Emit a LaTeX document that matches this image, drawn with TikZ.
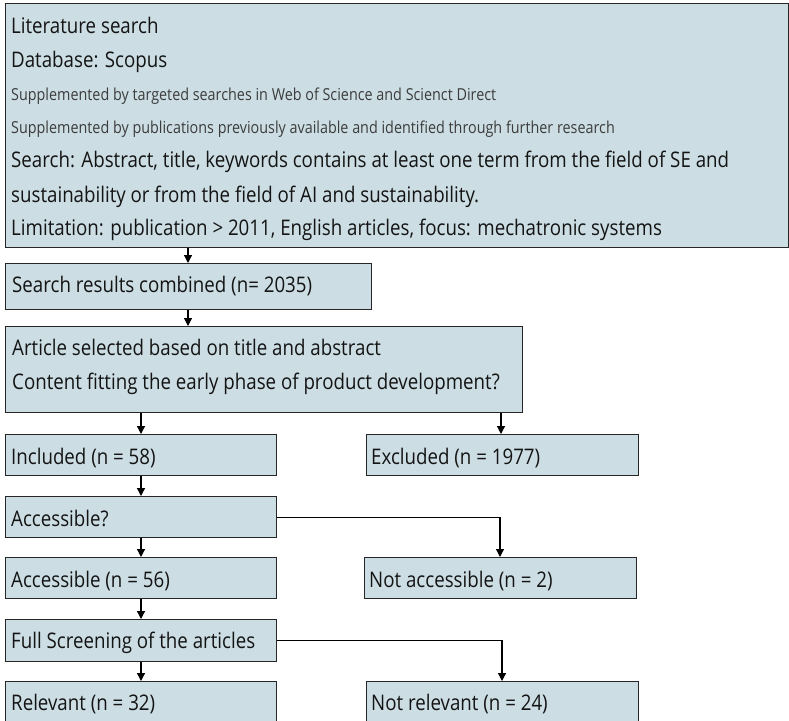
\documentclass[tikz,border=0pt]{standalone}
\usepackage{fontspec}
\setmainfont[FakeStretch=0.87]{Open Sans}
\usetikzlibrary{arrows.meta}
\definecolor{boxfill}{RGB}{204,222,228}
\definecolor{txt}{RGB}{20,20,20}
\definecolor{txtsmall}{RGB}{60,60,60}
\tikzset{
  box/.style={draw=black!85, line width=1.4pt, fill=boxfill, rectangle, inner sep=0pt, anchor=north west},
  big/.style={anchor=base west, inner sep=0pt, text=txt, font=\fontsize{21.5}{25}\selectfont},
  small/.style={anchor=base west, inner sep=0pt, text=txtsmall, font=\fontsize{16.5}{20}\selectfont},
  arr/.style={draw=black, line width=1.2pt, -{Triangle[width=8pt,length=8pt]}},
}
\begin{document}
\begin{tikzpicture}[x=1pt,y=-1pt]
\useasboundingbox (0,0) rectangle (789,720);
% boxes
\node[box, minimum width=783pt, minimum height=244pt] (top) at (5,3) {};
\node[box, minimum width=366pt, minimum height=46pt] (comb) at (5,263) {};
\node[box, minimum width=517pt, minimum height=86pt] (sel) at (5,326) {};
\node[box, minimum width=271pt, minimum height=41pt] (inc) at (5,434) {};
\node[box, minimum width=272pt, minimum height=41pt] (exc) at (366,434) {};
\node[box, minimum width=271pt, minimum height=41pt] (accq) at (5,496) {};
\node[box, minimum width=271pt, minimum height=41pt] (acc) at (5,557) {};
\node[box, minimum width=272pt, minimum height=41pt] (nacc) at (364,557) {};
\node[box, minimum width=271pt, minimum height=42pt] (full) at (5,619) {};
\node[box, minimum width=271pt, minimum height=60pt] (rel) at (5,681) {};
\node[box, minimum width=272pt, minimum height=60pt] (nrel) at (366,681) {};
% texts
\node[big] (t1) at (11,33) {Literature search};
\node[big] (t2) at (11,67) {Database: Scopus};
\node[small] (t3) at (11,100) {Supplemented by targeted searches in Web of Science and Scienct Direct};
\node[small] (t4) at (11,133) {Supplemented by publications previously available and identified through further research};
\node[big] (t5) at (11,167) {Search: Abstract, title, keywords contains at least one term from the field of SE and};
\node[big] (t6) at (11,202) {sustainability or from the field of AI and sustainability.};
\node[big] (t7) at (11,235) {Limitation: publication > 2011, English articles, focus: mechatronic systems};
\node[big] (t8) at (12,292) {Search results combined (n= 2035)};
\node[big] (t9) at (12,355) {Article selected based on title and abstract};
\node[big] (t10) at (12,389) {Content fitting the early phase of product development?};
\node[big] (t11) at (11,464) {Included (n = 58)};
\node[big] (t12) at (371,464) {Excluded (n = 1977)};
\node[big] (t13) at (11,526) {Accessible?};
\node[big] (t14) at (11,587) {Accessible (n = 56)};
\node[big] (t15) at (369,587) {Not accessible (n = 2)};
\node[big] (t16) at (11,648) {Full Screening of the articles};
\node[big] (t17) at (11,710) {Relevant (n = 32)};
\node[big] (t18) at (371,710) {Not relevant (n = 24)};
% connectors
\draw[arr] ([xshift=183pt]top.south west) -- ([xshift=183pt]comb.north west);
\draw[arr] ([xshift=183pt]comb.south west) -- ([xshift=183pt]sel.north west);
\draw[arr] ([xshift=136pt]sel.south west) -- ([xshift=136pt]inc.north west);
\draw[arr] ([xshift=496pt]sel.south west) -- ([xshift=135pt]exc.north west);
\draw[arr] ([xshift=136pt]inc.south west) -- ([xshift=136pt]accq.north west);
\draw[arr] (accq.east) -| ([xshift=136pt]nacc.north west);
\draw[arr] ([xshift=136pt]accq.south west) -- ([xshift=136pt]acc.north west);
\draw[arr] ([xshift=136pt]acc.south west) -- ([xshift=136pt]full.north west);
\draw[arr] (full.east) -| ([xshift=136pt]nrel.north west);
\draw[arr] ([xshift=136pt]full.south west) -- ([xshift=136pt]rel.north west);
\end{tikzpicture}
\end{document}
